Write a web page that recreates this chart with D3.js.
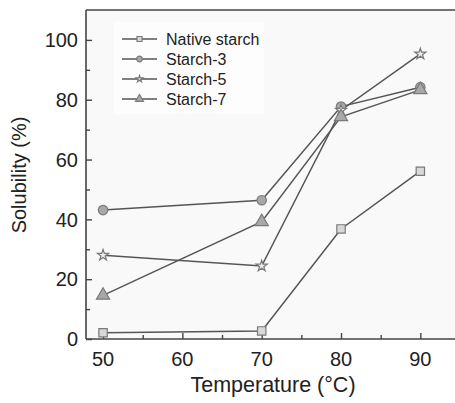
<!DOCTYPE html>
<html><head><meta charset="utf-8">
<script src="https://cdn.jsdelivr.net/npm/d3@7"></script>
<style>body{margin:0;background:#fff}svg{display:block}</style>
</head><body>
<script>
const temps = [50, 70, 80, 90];
const seriesNames = ["Native starch", "Starch-3", "Starch-5", "Starch-7"];
const markerTypes = ["square", "circle", "star", "triangle"];
const nativeStarch = [2.1, 2.7, 36.8, 56.1];
const starch3 = [43.1, 46.4, 77.7, 84.2];
const starch5 = [28.0, 24.4, 76.5, 95.3];
const starch7 = [14.6, 39.2, 74.3, 83.3];
const xTicks = [50, 60, 70, 80, 90];
const yTicks = [0, 20, 40, 60, 80, 100];
const xLabel = "Temperature (°C)";
const yLabel = "Solubility (%)";

const allSeries = [nativeStarch, starch3, starch5, starch7];
const W = 455, H = 403;
const svg = d3.select("body").append("svg").attr("width", W).attr("height", H);
const font = "Liberation Sans, Arial, sans-serif";

const x = d3.scaleLinear().domain([47.85, 95]).range([86, 460]);
const y = d3.scaleLinear().domain([0, 110]).range([339, 10]);

// plot background
svg.append("rect").attr("x", 86).attr("y", 10).attr("width", 380).attr("height", 329).attr("fill", "#f9f9f9");
// legend white area
svg.append("rect").attr("x", 114).attr("y", 22).attr("width", 150).attr("height", 92).attr("fill", "#fdfdfd");

// axes frame
const axisColor = "#444";
svg.append("line").attr("x1", 86).attr("x2", 86).attr("y1", 10).attr("y2", 339).attr("stroke", axisColor).attr("stroke-width", 1.6);
svg.append("line").attr("x1", 86).attr("x2", 460).attr("y1", 10).attr("y2", 10).attr("stroke", axisColor).attr("stroke-width", 1.6);
svg.append("line").attr("x1", 86).attr("x2", 460).attr("y1", 339).attr("y2", 339).attr("stroke", axisColor).attr("stroke-width", 1.6);

// y axis ticks (inward) with minor
const yAxis = d3.axisRight(y).tickValues(d3.range(0, 110, 10)).tickSize(0).tickFormat("");
const gy = svg.append("g").attr("transform", "translate(86,0)").call(yAxis);
gy.select(".domain").remove();
gy.selectAll(".tick line").attr("x2", d => d % 20 === 0 ? 6 : 4).attr("stroke", axisColor).attr("stroke-width", 1.4);
svg.selectAll(".ylab").data(yTicks).enter().append("text")
  .attr("x", 78).attr("y", d => y(d)).attr("dy", "0.36em").attr("text-anchor", "end")
  .attr("font-family", font).attr("font-size", 20).attr("fill", "#222").text(d => d);

// x axis ticks (inward) with minor
const xAxis = d3.axisTop(x).tickValues(d3.range(50, 95, 5)).tickSize(0).tickFormat("");
const gx = svg.append("g").attr("transform", "translate(0,339)").call(xAxis);
gx.select(".domain").remove();
gx.selectAll(".tick line").attr("y2", d => d % 10 === 0 ? -6 : -4).attr("stroke", axisColor).attr("stroke-width", 1.4);
svg.selectAll(".xlab").data(xTicks).enter().append("text")
  .attr("x", d => x(d)).attr("y", 359).attr("dy", "0.36em").attr("text-anchor", "middle")
  .attr("font-family", font).attr("font-size", 20).attr("fill", "#222").text(d => d);

svg.append("text").attr("x", 273).attr("y", 392).attr("text-anchor", "middle")
  .attr("font-family", font).attr("font-size", 21.5).attr("fill", "#222").text(xLabel);
svg.append("text").attr("transform", "translate(26,175) rotate(-90)").attr("text-anchor", "middle")
  .attr("font-family", font).attr("font-size", 20).attr("fill", "#222").text(yLabel);

const lineColor = "#555";
const markFill = "#a8a8a8", markStroke = "#7a7a7a";
const symbolFor = {
  square: d3.symbolSquare, circle: d3.symbolCircle, star: d3.symbolStar, triangle: d3.symbolTriangle
};
const sizeFor = {square: 70, circle: 70, star: 38, triangle: 75};
function drawMarker(g, type, cx, cy, scale) {
  const s = scale || 1;
  const path = d3.symbol().type(symbolFor[type]).size(sizeFor[type] * s * s)();
  g.append("path").attr("d", path).attr("transform", `translate(${cx},${cy})`)
    .attr("fill", type === "star" ? "#ececec" : (type === "square" ? "#d8d8d8" : markFill))
    .attr("stroke", markStroke).attr("stroke-width", 1.2);
}

const lineGen = d3.line().x((d, i) => x(temps[i])).y(d => y(d));
allSeries.forEach((vals, si) => {
  svg.append("path").attr("d", lineGen(vals)).attr("fill", "none").attr("stroke", lineColor).attr("stroke-width", 1.5);
});
allSeries.forEach((vals, si) => {
  const g = svg.append("g");
  vals.forEach((v, i) => drawMarker(g, markerTypes[si], x(temps[i]), y(v)));
});

// legend
seriesNames.forEach((name, i) => {
  const ly = 39 + i * 20;
  svg.append("line").attr("x1", 122).attr("x2", 157).attr("y1", ly).attr("y2", ly).attr("stroke", lineColor).attr("stroke-width", 1.5);
  drawMarker(svg, markerTypes[i], 139.5, ly, 0.6);
  svg.append("text").attr("x", 166).attr("y", ly).attr("dy", "0.36em")
    .attr("font-family", font).attr("font-size", 16).attr("fill", "#222").text(name);
});
</script>
</body></html>
